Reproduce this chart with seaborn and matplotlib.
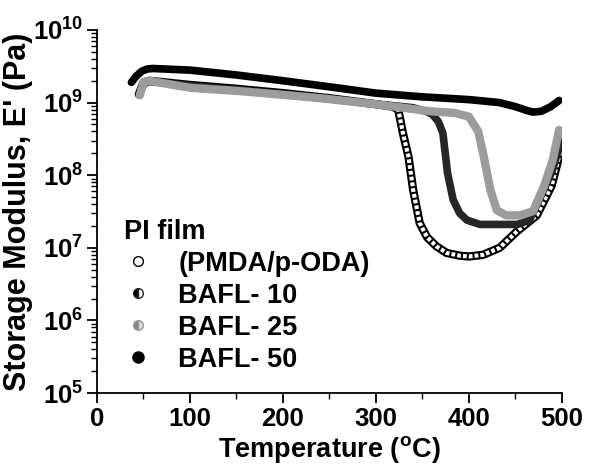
import math
import matplotlib
matplotlib.use('Agg')
import matplotlib.pyplot as plt
from matplotlib.lines import Line2D
from matplotlib.ticker import LogLocator, FuncFormatter, MultipleLocator
import seaborn as sns
import pandas as pd

# Storage modulus E' (Pa) vs temperature (C)
pmda_T = [45, 50, 56, 100, 150, 200, 250, 300, 318, 324, 329, 335, 340, 347,
          355, 365, 376, 390, 400, 415, 433, 452, 473, 489, 499]
pmda_E = [1.3e9, 1.9e9, 2.0e9, 1.75e9, 1.55e9, 1.35e9, 1.15e9, 9.5e8, 8.8e8,
          8.0e8, 3.8e8, 1.8e8, 6.3e7, 2.2e7, 1.4e7, 1.05e7, 8.5e6, 7.8e6,
          7.6e6, 8.0e6, 1.0e7, 1.7e7, 2.8e7, 7.2e7, 2.3e8]

bafl10_T = [46, 50, 56, 100, 150, 200, 250, 300, 340, 355, 361, 367, 372, 377,
            383, 390, 398, 412, 433, 452, 465, 473, 489, 499]
bafl10_E = [1.3e9, 1.8e9, 1.95e9, 1.7e9, 1.5e9, 1.3e9, 1.12e9, 9.6e8, 8.5e8,
            7.5e8, 6.8e8, 5.5e8, 3.8e8, 1.07e8, 4.6e7, 3.0e7, 2.4e7, 2.1e7,
            2.1e7, 2.1e7, 2.4e7, 3.9e7, 1.1e8, 2.9e8]

bafl25_T = [46, 50, 56, 100, 150, 200, 240, 300, 358, 385, 400, 410, 416, 423,
            430, 440, 455, 469, 481, 490, 497]
bafl25_E = [1.26e9, 1.9e9, 2.0e9, 1.6e9, 1.45e9, 1.28e9, 1.15e9, 9.5e8, 7.6e8,
            7.2e8, 6.4e8, 4.0e8, 1.8e8, 6.3e7, 3.3e7, 2.8e7, 2.8e7, 3.2e7,
            7.2e7, 1.6e8, 4.2e8]

bafl50_T = [37, 42, 48, 54, 60, 100, 150, 200, 250, 300, 350, 400, 433, 450,
            462, 469, 478, 488, 497]
bafl50_E = [1.9e9, 2.3e9, 2.7e9, 2.9e9, 2.95e9, 2.8e9, 2.4e9, 2.0e9, 1.65e9,
            1.35e9, 1.2e9, 1.1e9, 1.0e9, 8.8e8, 7.8e8, 7.4e8, 7.6e8, 8.8e8,
            1.07e9]

labels = ['(PMDA/p-ODA)', 'BAFL- 10', 'BAFL- 25', 'BAFL- 50']
colors = ['black', '#262626', '#9c9c9c', 'black']
widths = [6.0, 5.5, 6.0, 5.5]

sns.set_style('ticks')
plt.rcParams['font.family'] = ['Liberation Sans', 'DejaVu Sans']
plt.rcParams['font.weight'] = 'bold'
plt.rcParams['text.color'] = 'black'
plt.rcParams['axes.labelcolor'] = 'black'
plt.rcParams['xtick.color'] = 'black'
plt.rcParams['ytick.color'] = 'black'
plt.rcParams['axes.edgecolor'] = 'black'
plt.rcParams['mathtext.fontset'] = 'custom'
plt.rcParams['mathtext.rm'] = 'Liberation Sans:bold'
plt.rcParams['mathtext.bf'] = 'Liberation Sans:bold'
plt.rcParams['mathtext.default'] = 'bf'

fig = plt.figure(figsize=(5.89, 4.73), dpi=100)
ax = fig.add_axes([0.1647, 0.169, 0.954 - 0.1647, 0.9366 - 0.169])

series = [(pmda_T, pmda_E), (bafl10_T, bafl10_E), (bafl25_T, bafl25_E), (bafl50_T, bafl50_E)]
for i, ((T, E), c, w) in enumerate(zip(series, colors, widths)):
    df = pd.DataFrame({'T': T, 'E': E})
    sns.lineplot(data=df, x='T', y='E', ax=ax, color=c, lw=w, sort=False,
                 estimator=None, legend=False)
    if i == 0:
        # white dashed core gives the chain-of-open-circles look
        sns.lineplot(data=df, x='T', y='E', ax=ax, color='white', lw=3.0,
                     sort=False, estimator=None, legend=False,
                     dashes=False)
        ax.lines[-1].set_dashes((0.9, 0.5))

ax.set_yscale('log')
ax.set_xlim(0, 500)
ax.set_ylim(1e5, 1e10)
ax.xaxis.set_major_locator(MultipleLocator(100))
ax.xaxis.set_minor_locator(MultipleLocator(50))
ax.yaxis.set_major_locator(LogLocator(base=10, numticks=10))
ax.yaxis.set_minor_locator(LogLocator(base=10, subs=range(2, 10), numticks=20))
ax.yaxis.set_major_formatter(FuncFormatter(lambda v, p: r'$\mathbf{10^{%d}}$' % round(math.log10(v))))
ax.tick_params(which='major', direction='out', length=7, width=1.3, labelsize=18.5, pad=3)
ax.tick_params(which='minor', direction='out', length=4, width=1.0)
for lab in ax.get_xticklabels() + ax.get_yticklabels():
    lab.set_fontweight('bold')
sns.despine(ax=ax)
ax.spines['left'].set_linewidth(1.3)
ax.spines['bottom'].set_linewidth(1.3)

ax.set_xlabel(r'Temperature ($^{\mathbf{o}}$C)', fontsize=19.5, fontweight='bold', labelpad=2)
ax.set_ylabel("Storage Modulus, E' (Pa)", fontsize=22, fontweight='bold', labelpad=0)

handles = [
    Line2D([], [], ls='none', marker='o', ms=7, mfc='white', mec='black', mew=1),
    Line2D([], [], ls='none', marker='o', ms=7, fillstyle='left', mfc='black', mfcalt='white', mec='#222222', mew=1),
    Line2D([], [], ls='none', marker='o', ms=7, fillstyle='left', mfc='#888888', mfcalt='#dddddd', mec='#999999', mew=1),
    Line2D([], [], ls='none', marker='o', ms=8, mfc='black', mec='black'),
]
leg = ax.legend(handles, labels, title='PI film', loc='upper left',
                bbox_to_anchor=(0.035, 0.51), frameon=False, handlelength=1.0,
                handletextpad=1.0, labelspacing=0.22, borderaxespad=0,
                prop={'size': 19.5, 'weight': 'bold'}, alignment='left')
leg.get_title().set_fontsize(19.5)
leg.get_title().set_fontweight('bold')

fig.savefig('out.png', dpi=100)
